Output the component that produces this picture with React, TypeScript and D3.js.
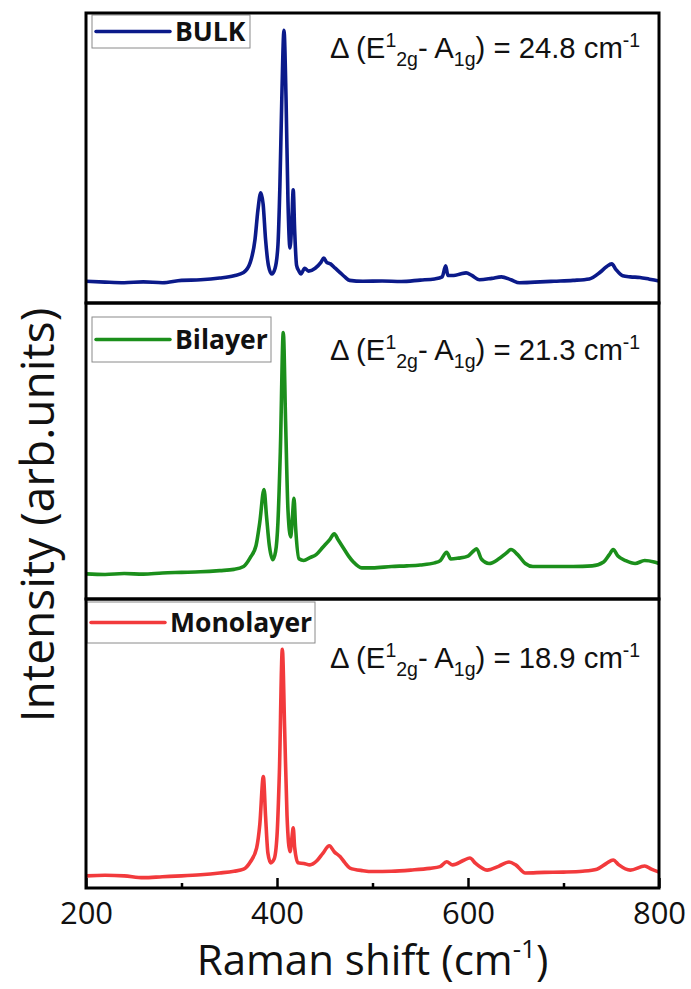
import React, { useRef, useEffect } from 'react'
import * as d3 from 'd3'

// Raman spectra: [shift (cm-1), intensity (arb.)]
const bulk: [number, number][] = [
  [200, 7.5], [220, 7.2], [240, 7.0], [260, 7.3], [280, 7.0], [300, 7.8], [320, 8.0], [340, 8.6],
  [355, 9.4], [365, 10.5], [372, 14], [377, 22], [380, 32], [383, 38], [385.5, 34], [388, 22],
  [391, 13], [394.5, 10], [398, 12], [401, 20], [403, 40], [405, 70], [407.3, 94], [409.5, 70],
  [411.5, 35], [413.6, 19], [415.5, 28], [417, 39], [418.5, 25], [420.5, 13], [423, 11], [425, 10],
  [429, 12], [433, 11], [440, 12], [446, 14], [449, 15.5], [452, 14], [456, 13.5], [461, 12],
  [466, 10.5], [471, 9], [476, 7.8], [490, 7.5], [510, 7.6], [530, 7.4], [550, 7.9], [565, 8.3],
  [573, 9], [576.6, 12.8], [579, 9.5], [585, 9.5], [592, 10], [598, 10.4], [604, 9.5], [612, 8],
  [625, 8.5], [635, 9], [645, 8], [654, 7], [670, 7.2], [690, 7.5], [710, 7.8], [727, 8.3],
  [738, 10.5], [745, 12.5], [750.5, 13.5], [755, 11.5], [762, 9.4], [770, 9], [780, 8.8],
  [790, 8.2], [800, 7.6],
]

const bilayer: [number, number][] = [
  [200, 8.5], [220, 8.3], [240, 8.6], [260, 8.4], [280, 8.8], [300, 9.0], [320, 9.2], [340, 9.6],
  [355, 10.0], [365, 11], [372, 14], [378, 18], [382, 26], [386.4, 37], [389, 28], [392, 18],
  [395.5, 13.3], [398.5, 16], [401, 26], [403.5, 50], [406.6, 90], [409, 60], [411.5, 30],
  [414.3, 21], [416, 27], [417.8, 34], [419.5, 24], [423, 13.6], [428, 13], [434.5, 14], [441, 15],
  [448, 17.5], [455, 20], [460, 22], [464, 20], [470, 17], [475, 14.5], [480, 12.5], [488.7, 10.5],
  [500, 10.5], [520, 11], [536, 11.2], [550, 11.5], [565, 12.2], [571, 13], [577.7, 15.8],
  [582, 13.5], [590, 13.8], [600, 14.5], [606, 16.3], [609, 17], [614, 13.5], [622, 12],
  [632, 13.5], [640, 15.5], [645, 16.7], [652, 15], [660, 12], [668, 11], [690, 11], [710, 11],
  [730, 11.2], [742, 12.5], [748, 15], [752, 16.7], [757, 14.5], [765, 13], [775, 12], [785, 13],
  [795, 12.5], [800, 12],
]

const monolayer: [number, number][] = [
  [200, 4.2], [220, 4.4], [240, 4.2], [260, 3.6], [280, 3.9], [300, 4.2], [320, 4.6], [340, 5.2],
  [355, 5.8], [365, 6.5], [372, 9], [378.7, 13.9], [382, 22], [385.7, 38.6], [388, 25], [390.5, 12],
  [393.4, 8.7], [397, 10], [400, 18], [402.5, 40], [405.6, 82.6], [408, 55], [410.5, 25],
  [413.6, 12.6], [415.5, 17], [417, 20.8], [418.5, 14], [422, 8.7], [428, 8.5], [434.5, 8.0],
  [442, 9.5], [448, 12], [454.8, 14.6], [460, 12.5], [466, 10.9], [471, 8.8], [476.4, 6.9],
  [490, 6.0], [500.5, 5.7], [520, 5.8], [540, 6.2], [560, 6.8], [570.7, 7.4], [577.7, 9.1],
  [584, 8.0], [595, 9.5], [602, 10.4], [608, 8.5], [620, 6.2], [632, 7.5], [643, 9.0], [650, 8],
  [660, 5.2], [680, 5.4], [700, 5.5], [720, 5.8], [735, 6.5], [745, 8.5], [752, 9.7], [758, 8],
  [770, 6.2], [785, 7.6], [792, 6.5], [800, 5.5],
]

const names = ['BULK', 'Bilayer', 'Monolayer']
const colors = ['#0b1a8a', '#1b8f1b', '#f23a3c']
const deltas = ['24.8', '21.3', '18.9']
const majorTicks = [200, 400, 600, 800]
const minorTicks = [300, 500, 700]

export default function App() {
  const svgRef = useRef<SVGSVGElement>(null)

  useEffect(() => {
    const width = 691
    const height = 989
    const left = 86
    const right = 659
    const bands = [13, 303, 599, 888]
    const series = [bulk, bilayer, monolayer]

    const svg = d3.select(svgRef.current)
    svg.selectAll('*').remove()
    svg.attr('width', width).attr('height', height).attr('viewBox', `0 0 ${width} ${height}`)

    const x = d3.scaleLinear().domain([200, 800]).range([left, right])

    // legend boxes (x0, y0, x1, y1)
    const legendBox = [
      [92, 15, 250, 48],
      [92, 317, 271, 362],
      [87, 602, 315, 643],
    ]
    const baselines = [58, 360, 668]

    series.forEach((data, i) => {
      const top = bands[i]
      const bottom = bands[i + 1]
      const y = d3.scaleLinear().domain([0, 100]).range([bottom, top])
      const g = svg.append('g')

      const clipId = `clip${i}`
      svg.append('clipPath').attr('id', clipId)
        .append('rect').attr('x', left).attr('y', top).attr('width', right - left).attr('height', bottom - top)

      const line = d3.line<[number, number]>()
        .x(d => x(d[0]))
        .y(d => y(d[1]))
        .curve(d3.curveMonotoneX)

      g.append('path')
        .datum(data)
        .attr('d', line)
        .attr('clip-path', `url(#${clipId})`)
        .attr('fill', 'none')
        .attr('stroke', colors[i])
        .attr('stroke-width', 3.6)
        .attr('stroke-linejoin', 'round')

      // legend
      const [bx0, by0, bx1, by1] = legendBox[i]
      const cy = (by0 + by1) / 2
      g.append('rect')
        .attr('x', bx0).attr('y', by0).attr('width', bx1 - bx0).attr('height', by1 - by0)
        .attr('fill', '#fff').attr('stroke', '#8a8a8a').attr('stroke-width', 1)
      g.append('line')
        .attr('x1', bx0 + 4).attr('x2', bx0 + 78).attr('y1', cy).attr('y2', cy)
        .attr('stroke', colors[i]).attr('stroke-width', 3.5).attr('stroke-linecap', 'round')
      g.append('text')
        .attr('x', bx0 + 83).attr('y', cy + 9.5)
        .attr('font-family', 'Open Sans, sans-serif').attr('font-weight', 700).attr('font-size', 26.5)
        .attr('fill', '#111')
        .text(names[i])

      // peak separation note
      const t = g.append('text')
        .attr('x', 330).attr('y', baselines[i])
        .attr('font-family', 'Liberation Sans, Arial, sans-serif').attr('font-size', 29.3)
        .attr('fill', '#111')
      t.append('tspan').text('\u0394 (E')
      t.append('tspan').attr('font-size', 19.5).attr('dy', -11).text('1')
      t.append('tspan').attr('font-size', 19.5).attr('dy', 19).text('2g')
      t.append('tspan').attr('dy', -8).text('- A')
      t.append('tspan').attr('font-size', 19.5).attr('dy', 8).text('1g')
      t.append('tspan').attr('dy', -8).text(`) = ${deltas[i]} cm`)
      t.append('tspan').attr('font-size', 19.5).attr('dy', -11).text('-1')

      g.append('rect')
        .attr('x', left).attr('y', top).attr('width', right - left).attr('height', bottom - top)
        .attr('fill', 'none').attr('stroke', '#000').attr('stroke-width', 3)
    })

    const axisY = bands[3]
    svg.append('g')
      .attr('transform', `translate(0,${axisY})`)
      .call(d3.axisBottom(x).tickValues(majorTicks).tickSize(-10).tickPadding(14).tickFormat(d3.format('d')))
      .call(g => g.select('.domain').remove())
      .call(g => g.selectAll('line').attr('stroke', '#000').attr('stroke-width', 2.5))
      .call(g => g.selectAll('text')
        .attr('font-family', 'Open Sans, sans-serif').attr('font-size', 31).attr('fill', '#111'))

    svg.append('g')
      .attr('transform', `translate(0,${axisY})`)
      .call(d3.axisBottom(x).tickValues(minorTicks).tickSize(-5).tickFormat(() => ''))
      .call(g => g.select('.domain').remove())
      .call(g => g.selectAll('line').attr('stroke', '#000').attr('stroke-width', 2.5))

    // axis titles
    const xt = svg.append('text')
      .attr('x', (left + right) / 2).attr('y', 975)
      .attr('text-anchor', 'middle')
      .attr('font-family', 'Open Sans, sans-serif').attr('font-size', 42).attr('fill', '#111')
    xt.append('tspan').text('Raman shift (cm')
    xt.append('tspan').attr('font-size', 26).attr('dy', -17).text('-1')
    xt.append('tspan').attr('dy', 17).text(')')

    svg.append('text')
      .attr('transform', `translate(54,515) rotate(-90)`)
      .attr('text-anchor', 'middle')
      .attr('font-family', 'Open Sans, sans-serif').attr('font-size', 46).attr('fill', '#111')
      .text('Intensity (arb.units)')
  }, [])

  return (
    <svg ref={svgRef} style={{ position: 'absolute', left: 0, top: 0, background: '#fff' }} />
  )
}
